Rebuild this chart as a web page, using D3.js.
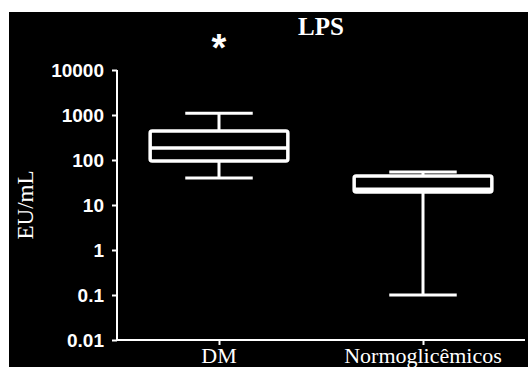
<!DOCTYPE html>
<html>
<head>
<meta charset="utf-8">
<script src="https://cdn.jsdelivr.net/npm/d3@7"></script>
<style>
  html, body { margin: 0; padding: 0; background: #fff; }
  svg { display: block; }
</style>
</head>
<body>
<div class="container"></div>
<script>
// values
const categories = ["DM", "Normoglicêmicos"];
const mins = [40, 0.1];
const q1s = [95, 19.5];
const medians = [185, 22.5];
const q3s = [440, 44];
const maxs = [1100, 54];
const yTicks = [0.01, 0.1, 1, 10, 100, 1000, 10000];
const marks = ["*", ""];

const w = 528;
const h = 367;

const boxes = categories.map((c, i) => ({
    cat: c,
    min: mins[i],
    q1: q1s[i],
    med: medians[i],
    q3: q3s[i],
    max: maxs[i],
    mark: marks[i],
}));

const svg = d3
    .select(".container")
    .append("svg")
    .attr("width", w)
    .attr("height", h);

// black plot panel with the thin white border of the original scan
svg.append("rect")
    .attr("x", 9)
    .attr("y", 12)
    .attr("width", w - 9)
    .attr("height", h - 12)
    .attr("fill", "#000");

const xScale = d3.scalePoint().domain(categories).range([117, 525]).padding(0.5);
const yScale = d3.scaleLog().domain([0.01, 10000]).range([340, 70]);

const boxW = xScale.step() * 0.675;
const capW = boxW * 0.49;

const g = svg.append("g").attr("stroke", "#fff").attr("fill", "none");

const box = g.selectAll("g.box").data(boxes).enter().append("g").attr("class", "box");

// whiskers
box.append("line")
    .attr("x1", (d) => xScale(d.cat))
    .attr("x2", (d) => xScale(d.cat))
    .attr("y1", (d) => yScale(d.max))
    .attr("y2", (d) => yScale(d.q3))
    .attr("stroke-width", 3);
box.append("line")
    .attr("x1", (d) => xScale(d.cat))
    .attr("x2", (d) => xScale(d.cat))
    .attr("y1", (d) => yScale(d.q1))
    .attr("y2", (d) => yScale(d.min))
    .attr("stroke-width", 3);

// caps
["max", "min"].forEach((k) => {
    box.append("line")
        .attr("x1", (d) => xScale(d.cat) - capW / 2)
        .attr("x2", (d) => xScale(d.cat) + capW / 2)
        .attr("y1", (d) => yScale(d[k]))
        .attr("y2", (d) => yScale(d[k]))
        .attr("stroke-width", 3);
});

// box
box.append("rect")
    .attr("x", (d) => xScale(d.cat) - boxW / 2)
    .attr("y", (d) => yScale(d.q3))
    .attr("width", boxW)
    .attr("height", (d) => yScale(d.q1) - yScale(d.q3))
    .attr("rx", 2)
    .attr("fill", "#000")
    .attr("stroke-width", 3.5);

// median
box.append("line")
    .attr("x1", (d) => xScale(d.cat) - boxW / 2)
    .attr("x2", (d) => xScale(d.cat) + boxW / 2)
    .attr("y1", (d) => yScale(d.med))
    .attr("y2", (d) => yScale(d.med))
    .attr("stroke-width", 3.5);

// significance mark
svg.selectAll("text.mark")
    .data(boxes)
    .enter()
    .append("text")
    .attr("class", "mark")
    .attr("x", (d) => xScale(d.cat))
    .attr("y", 61)
    .attr("text-anchor", "middle")
    .attr("fill", "#fff")
    .style("font", "bold 38px 'Liberation Sans', Arial, sans-serif")
    .text((d) => d.mark);

// axes
const yAxis = d3.axisLeft(yScale).tickValues(yTicks).tickFormat((d) => String(d)).tickSize(5).tickPadding(8);
const yg = svg.append("g")
    .attr("transform", "translate(117, 0)")
    .call(yAxis);

const xAxis = d3.axisBottom(xScale).tickSize(5).tickFormat("");
const xg = svg.append("g")
    .attr("transform", "translate(0, 340)")
    .call(xAxis);

[yg, xg].forEach((a) => {
    a.select(".domain").attr("stroke", "#fff").attr("stroke-width", 2);
    a.selectAll(".tick line").attr("stroke", "#fff").attr("stroke-width", 2);
});
yg.select(".domain").attr("d", "M0,70V340");
xg.select(".domain").attr("d", "M117,0H525");
yg.selectAll(".tick text")
    .attr("fill", "#fff")
    .style("font", "bold 19px 'Liberation Sans', Arial, sans-serif");

// category labels
svg.selectAll("text.cat")
    .data(categories)
    .enter()
    .append("text")
    .attr("class", "cat")
    .attr("x", (d) => xScale(d))
    .attr("y", 363)
    .attr("text-anchor", "middle")
    .attr("fill", "#fff")
    .style("font", "22px 'Liberation Serif', 'Times New Roman', serif")
    .text((d) => d);

// title
svg.append("text")
    .attr("x", 321)
    .attr("y", 35)
    .attr("text-anchor", "middle")
    .attr("fill", "#fff")
    .style("font", "bold 25px 'Liberation Serif', 'Times New Roman', serif")
    .text("LPS");

// y label
svg.append("text")
    .attr("transform", "translate(33, 205) rotate(-90)")
    .attr("text-anchor", "middle")
    .attr("fill", "#fff")
    .style("font", "23px 'Liberation Serif', 'Times New Roman', serif")
    .text("EU/mL");
</script>
</body>
</html>
